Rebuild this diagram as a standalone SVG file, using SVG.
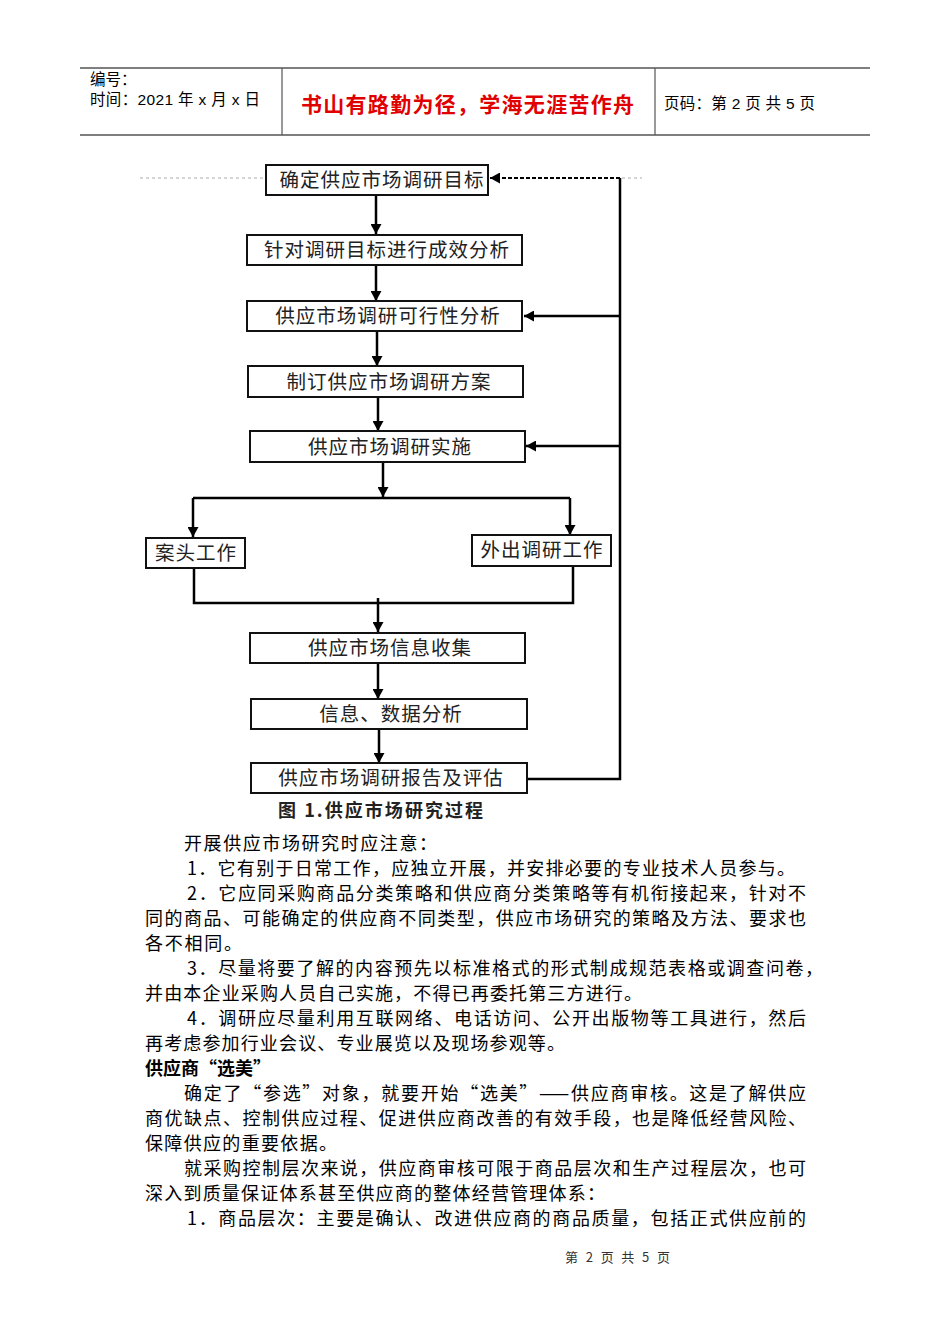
<svg xmlns="http://www.w3.org/2000/svg" width="950" height="1344" viewBox="0 0 950 1344">
<defs>
<marker id="arr" markerUnits="userSpaceOnUse" markerWidth="11" markerHeight="11" refX="10" refY="5.5" orient="auto"><path d="M0,0 L10,5.5 L0,11 z" fill="#000"/></marker>
<style>
.hdr{font-family:"Liberation Sans","Noto Sans CJK SC",sans-serif;font-size:15.5px;fill:#000}
.red{font-family:"Noto Sans CJK SC",sans-serif;font-size:21px;fill:#e00000;font-weight:bold}
.box{fill:#fff;stroke:#111;stroke-width:2}
.lbl{font-family:"Noto Sans CJK SC",sans-serif;font-size:19.5px;fill:#222;text-anchor:middle;letter-spacing:1px}
.cap{font-family:"Noto Sans CJK SC",sans-serif;font-size:18px;fill:#222;font-weight:bold}
.con{fill:none;stroke:#000;stroke-width:2.5}
.body{font-family:"Noto Sans CJK SC",sans-serif;font-size:18px;fill:#000}
.foot{font-family:"Noto Sans CJK SC",sans-serif;font-size:13px;fill:#333}
</style>
</defs>
<rect width="950" height="1344" fill="#fff"/>
<g id="header">
<line x1="80" y1="68" x2="870" y2="68" stroke="#555" stroke-width="1.5"/>
<line x1="80" y1="135" x2="870" y2="135" stroke="#555" stroke-width="1.5"/>
<line x1="282" y1="68" x2="282" y2="135" stroke="#555" stroke-width="1.2"/>
<line x1="655" y1="68" x2="655" y2="135" stroke="#555" stroke-width="1.2"/>
<text class="hdr" x="90" y="85">编号：</text>
<text class="hdr" x="90" y="105" textLength="170" lengthAdjust="spacing">时间：2021 年 x 月 x 日</text>
<text class="red" x="301" y="112" textLength="333" lengthAdjust="spacing">书山有路勤为径，学海无涯苦作舟</text>
<text class="hdr" x="664" y="109" textLength="151" lengthAdjust="spacing">页码：第 2 页 共 5 页</text>
</g>
<g id="connectors">
<path d="M140,178 H264" stroke="#c8c8c8" stroke-width="1.5" stroke-dasharray="3 3" fill="none"/>
<path d="M622,178 H642" stroke="#c8c8c8" stroke-width="1.5" stroke-dasharray="3 3" fill="none"/>
<path class="con" d="M376,196 V234" marker-end="url(#arr)"/>
<path class="con" d="M376,266 V301" marker-end="url(#arr)"/>
<path class="con" d="M377,332 V366" marker-end="url(#arr)"/>
<path class="con" d="M378,398 V431" marker-end="url(#arr)"/>
<path class="con" d="M383,463 V497" marker-end="url(#arr)"/>
<path class="con" d="M193,498 H570"/>
<path class="con" d="M193,498 V537" marker-end="url(#arr)"/>
<path class="con" d="M570,498 V535" marker-end="url(#arr)"/>
<path class="con" d="M194,568 V603 H573 V566"/>
<path class="con" d="M378,598 V632" marker-end="url(#arr)"/>
<path class="con" d="M378,664 V699" marker-end="url(#arr)"/>
<path class="con" d="M379,730 V763" marker-end="url(#arr)"/>
<path class="con" d="M527,779 H620 V178"/>
<path d="M620,178 H490" fill="none" stroke="#000" stroke-width="2" stroke-dasharray="4 2" marker-end="url(#arr)"/>
<path class="con" d="M620,316 H524" marker-end="url(#arr)"/>
<path class="con" d="M620,446 H526" marker-end="url(#arr)"/>
</g>
<g id="n1"><rect class="box" x="266" y="165" width="222" height="30" stroke-width="2.5"/><text class="lbl" x="382" y="187">确定供应市场调研目标</text></g>
<g id="n2"><rect class="box" x="247" y="235" width="275" height="30"/><text class="lbl" x="387" y="257">针对调研目标进行成效分析</text></g>
<g id="n3"><rect class="box" x="247" y="301" width="275" height="30"/><text class="lbl" x="388" y="323">供应市场调研可行性分析</text></g>
<g id="n4"><rect class="box" x="248" y="366" width="275" height="31"/><text class="lbl" x="389" y="389">制订供应市场调研方案</text></g>
<g id="n5"><rect class="box" x="250" y="431" width="275" height="31"/><text class="lbl" x="390" y="454">供应市场调研实施</text></g>
<g id="n6"><rect class="box" x="146" y="538" width="99" height="30"/><text class="lbl" x="196" y="560">案头工作</text></g>
<g id="n7"><rect class="box" x="472" y="535" width="139" height="31"/><text class="lbl" x="542" y="557">外出调研工作</text></g>
<g id="n8"><rect class="box" x="250" y="633" width="275" height="30"/><text class="lbl" x="390" y="655">供应市场信息收集</text></g>
<g id="n9"><rect class="box" x="251" y="699" width="276" height="30"/><text class="lbl" x="391" y="721">信息、数据分析</text></g>
<g id="n10"><rect class="box" x="251" y="763" width="276" height="30"/><text class="lbl" x="391" y="785">供应市场调研报告及评估</text></g>
<text class="cap" x="278" y="817" textLength="205" lengthAdjust="spacing">图 1.供应市场研究过程</text>
<g id="body">
<text class="body" x="184" y="850" textLength="253" lengthAdjust="spacing">开展供应市场研究时应注意：</text>
<text class="body" x="187" y="875" textLength="608" lengthAdjust="spacing">1．它有别于日常工作，应独立开展，并安排必要的专业技术人员参与。</text>
<text class="body" x="187" y="900" textLength="619" lengthAdjust="spacing">2．它应同采购商品分类策略和供应商分类策略等有机衔接起来，针对不</text>
<text class="body" x="145" y="925" textLength="661" lengthAdjust="spacing">同的商品、可能确定的供应商不同类型，供应市场研究的策略及方法、要求也</text>
<text class="body" x="145" y="950" textLength="97" lengthAdjust="spacing">各不相同。</text>
<text class="body" x="187" y="975" textLength="636" lengthAdjust="spacing">3．尽量将要了解的内容预先以标准格式的形式制成规范表格或调查问卷，</text>
<text class="body" x="145" y="1000" textLength="497" lengthAdjust="spacing">并由本企业采购人员自己实施，不得已再委托第三方进行。</text>
<text class="body" x="187" y="1025" textLength="619" lengthAdjust="spacing">4．调研应尽量利用互联网络、电话访问、公开出版物等工具进行，然后</text>
<text class="body" x="145" y="1050" textLength="420" lengthAdjust="spacing">再考虑参加行业会议、专业展览以及现场参观等。</text>
<text class="body" x="145" y="1075" font-weight="bold" textLength="126" lengthAdjust="spacing">供应商“选美”</text>
<text class="body" x="184" y="1100" textLength="622" lengthAdjust="spacing">确定了“参选”对象，就要开始“选美”——供应商审核。这是了解供应</text>
<text class="body" x="145" y="1125" textLength="661" lengthAdjust="spacing">商优缺点、控制供应过程、促进供应商改善的有效手段，也是降低经营风险、</text>
<text class="body" x="145" y="1150" textLength="192" lengthAdjust="spacing">保障供应的重要依据。</text>
<text class="body" x="184" y="1175" textLength="622" lengthAdjust="spacing">就采购控制层次来说，供应商审核可限于商品层次和生产过程层次，也可</text>
<text class="body" x="145" y="1200" textLength="460" lengthAdjust="spacing">深入到质量保证体系甚至供应商的整体经营管理体系：</text>
<text class="body" x="187" y="1225" textLength="619" lengthAdjust="spacing">1．商品层次：主要是确认、改进供应商的商品质量，包括正式供应前的</text>
</g>
<text class="foot" x="565" y="1262" textLength="105" lengthAdjust="spacing">第 2 页 共 5 页</text>
</svg>
